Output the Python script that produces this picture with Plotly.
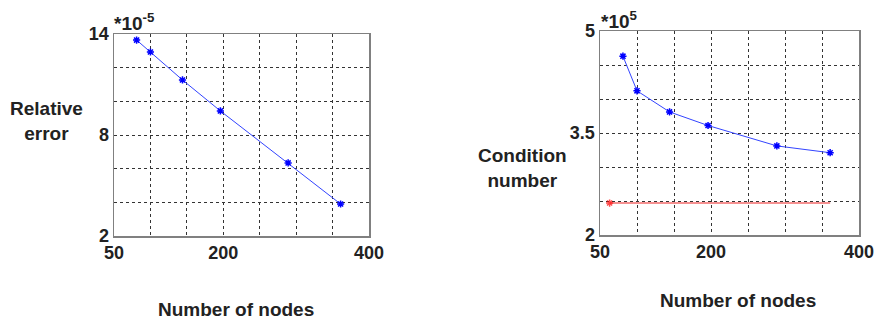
import plotly.graph_objects as go

# ---- data ----
nodes = [81, 100, 144, 196, 289, 361]
rel_error = [13.64, 12.93, 11.27, 9.43, 6.34, 3.9]      # x 1e-5
cond_number = [4.63, 4.12, 3.81, 3.61, 3.31, 3.21]     # x 1e5
ref_nodes = [63, 361]
ref_cond = [2.47, 2.47]

x_labels = [50, 200, 400]
x_grid = [100, 150, 250, 300, 350]
y1_labels = [2, 8, 14]
y1_grid = [4, 6, 10, 12]
y2_labels = [2, 3.5, 5]
y2_grid = [2.5, 3, 4, 4.5]

W, H = 879, 323
FONT = "Liberation Sans, Arial, sans-serif"
TXT = "#222222"

fig = go.Figure()

marker_blue = dict(symbol="asterisk-open", size=6, color="#0000ff",
                   line=dict(color="#0000ff", width=1.5))

fig.add_trace(go.Scatter(
    x=nodes, y=rel_error, mode="lines+markers", xaxis="x", yaxis="y",
    line=dict(color="#3344ff", width=1), marker=marker_blue, showlegend=False))

fig.add_trace(go.Scatter(
    x=nodes, y=cond_number, mode="lines+markers", xaxis="x2", yaxis="y2",
    line=dict(color="#3344ff", width=1), marker=marker_blue, showlegend=False))

fig.add_trace(go.Scatter(
    x=ref_nodes, y=ref_cond, mode="lines+markers", xaxis="x2", yaxis="y2",
    line=dict(color="#ee2222", width=1.1),
    marker=dict(symbol="asterisk-open", size=[6, 0], color="#ff0000",
                line=dict(color="#ff0000", width=1.5)),
    showlegend=False))


def px_x(p):
    return p / W


def px_y(p):
    return 1 - p / H


def axis(domain, rng, anchor, labels, grid):
    return dict(
        domain=domain, range=rng, anchor=anchor, automargin=False,
        showline=True, mirror=True, linecolor="#808080", linewidth=1.5,
        showgrid=True, gridcolor="#333333", griddash="dot", gridwidth=1,
        zeroline=False, ticks="", tickmode="array",
        tickvals=labels, ticktext=["<b>%g</b>" % v for v in labels],
        tickfont=dict(family=FONT, size=18, color=TXT),
        minor=dict(tickmode="array", tickvals=grid, showgrid=True,
                   gridcolor="#333333", griddash="dot", gridwidth=1, ticks=""),
    )


fig.update_layout(
    width=W, height=H,
    margin=dict(l=0, r=0, t=0, b=0, autoexpand=False),
    paper_bgcolor="white", plot_bgcolor="white",
    font=dict(family=FONT, color=TXT),
    xaxis=axis([px_x(114), px_x(369)], [50, 400], "y", x_labels, x_grid),
    yaxis=axis([px_y(236), px_y(34)], [2, 14], "x", y1_labels, y1_grid),
    xaxis2=axis([px_x(600), px_x(859)], [50, 400], "y2", x_labels, x_grid),
    yaxis2=axis([px_y(235), px_y(31)], [2, 5], "x2", y2_labels, y2_grid),
)


def ann(text, x, y, size=19, xanchor="center"):
    fig.add_annotation(text=text, x=px_x(x), y=px_y(y), xref="paper", yref="paper",
                       showarrow=False, xanchor=xanchor, yanchor="middle",
                       font=dict(family=FONT, size=size, color=TXT))


ann("<b>Relative<br>error</b>", 46, 121)
ann("<b>Condition<br>number</b>", 522, 168)
ann("<b>Number of nodes</b>", 236, 309)
ann("<b>Number of nodes</b>", 738, 300)
ann("<b>*10<sup>-5</sup></b>", 112, 22, size=19, xanchor="left")
ann("<b>*10<sup>5</sup></b>", 599, 20, size=19, xanchor="left")

fig.write_html(
    "out.html",
    config={"displayModeBar": False, "staticPlot": True},
    post_script="document.body.style.margin='0';document.body.style.overflow='hidden';",
)
